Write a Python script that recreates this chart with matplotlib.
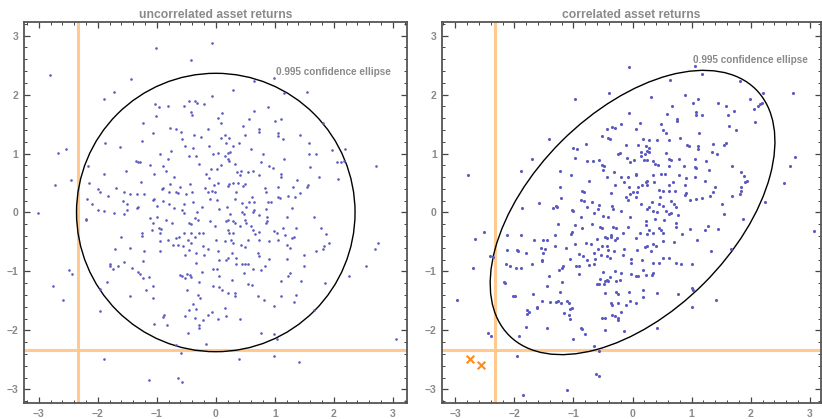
import numpy as np
import matplotlib
matplotlib.use("Agg")
import matplotlib.pyplot as plt
from matplotlib.patches import Ellipse
from matplotlib.ticker import MultipleLocator

plt.rcParams['font.family'] = ['Liberation Sans', 'DejaVu Sans']

# point clouds (x, y)
uncorr_pts = [
    (-0.07, 2.87), (-1.01, 2.79), (-0.42, 2.58), (-2.81, 2.33), (-1.44, 2.26), (0.99, 2.28),
    (0.64, 2.23), (-1.73, 2.05), (0.30, 2.08), (1.55, 2.04), (1.16, 2.03), (-0.07, 1.98),
    (-1.90, 1.92), (-0.46, 1.89), (-0.35, 1.89), (-1.03, 1.84), (-0.97, 1.79), (-0.81, 1.80),
    (-0.54, 1.80), (-0.31, 1.85), (-0.20, 1.84), (0.89, 1.79), (0.64, 1.72), (0.11, 1.69),
    (-0.42, 1.70), (-0.41, 1.65), (-1.01, 1.63), (0.03, 1.61), (0.57, 1.58), (1.00, 1.55),
    (1.11, 1.59), (0.08, 1.51), (-1.24, 1.51), (1.81, 1.52), (0.46, 1.46), (-0.78, 1.44),
    (-0.67, 1.42), (0.73, 1.41), (0.73, 1.36), (-0.14, 1.41), (-0.59, 1.36), (-1.07, 1.35),
    (1.05, 1.35), (-0.37, 1.31), (-0.25, 1.28), (0.16, 1.32), (0.50, 1.31), (1.42, 1.32),
    (1.05, 1.29), (0.08, 1.26), (0.23, 1.27), (1.14, 1.25), (-0.57, 1.24), (-1.25, 1.22),
    (-1.88, 1.18), (1.58, 1.17), (0.18, 1.17), (0.39, 1.18), (-1.62, 1.11), (-0.52, 1.13),
    (-0.11, 1.13), (-0.38, 1.10), (0.29, 1.12), (2.19, 1.08), (1.97, 1.06), (-2.53, 1.07),
    (0.59, 1.07), (0.24, 1.03), (0.21, 1.01), (-0.76, 1.05), (0.04, 1.01), (-0.04, 0.99),
    (-0.94, 1.00), (0.80, 1.00), (1.58, 0.99), (1.70, 1.00), (-2.68, 1.01), (-0.45, 0.95),
    (-0.33, 0.95), (0.15, 0.95), (-0.81, 0.91), (0.21, 0.90), (-1.35, 0.88), (-1.32, 0.85),
    (-1.29, 0.86), (0.22, 0.88), (0.77, 0.86), (2.05, 0.85), (2.12, 0.85), (2.18, 0.87),
    (2.71, 0.79), (-0.29, 0.82), (0.32, 0.82), (1.16, 0.90), (-1.12, 0.80), (-0.90, 0.78),
    (0.90, 0.78), (0.09, 0.80), (1.59, 0.77), (-2.16, 0.79), (0.97, 0.75), (-0.08, 0.74),
    (0.02, 0.73), (0.43, 0.71), (0.54, 0.69), (0.63, 0.71), (0.36, 0.69), (-0.85, 0.70),
    (-1.52, 0.70), (-0.16, 0.66), (-1.05, 0.65), (1.11, 0.65), (0.73, 0.64), (-1.90, 0.65),
    (-0.70, 0.61), (1.11, 0.61), (0.41, 0.64), (1.75, 0.61), (-0.12, 0.58), (2.07, 0.56),
    (-2.45, 0.55), (1.37, 0.55), (-1.27, 0.51), (0.29, 0.50), (-0.77, 0.48), (-0.43, 0.48),
    (0.03, 0.50), (0.22, 0.48), (0.38, 0.50), (0.50, 0.48), (0.46, 0.45), (-2.15, 0.50),
    (-2.72, 0.47), (-0.03, 0.47), (1.57, 0.46), (1.54, 0.43), (1.05, 0.44), (1.31, 0.43),
    (0.20, 0.45), (-0.90, 0.42), (-0.61, 0.43), (-0.18, 0.41), (-1.69, 0.41), (0.84, 0.41),
    (-2.00, 0.39), (-0.91, 0.39), (-0.06, 0.36), (-0.02, 0.35), (-0.14, 0.35), (-1.96, 0.34),
    (-1.56, 0.34), (-0.79, 0.35), (-0.68, 0.34), (-0.41, 0.34), (0.35, 0.35), (0.61, 0.27),
    (1.23, 0.28), (1.35, 0.27), (1.42, 0.33), (0.85, 0.34), (-1.34, 0.32), (-1.22, 0.31),
    (-1.46, 0.32), (-0.51, 0.31), (-0.64, 0.33), (-1.83, 0.28), (-1.04, 0.23), (-1.06, 0.21),
    (-0.09, 0.23), (0.02, 0.21), (0.32, 0.23), (1.05, 0.26), (1.08, 0.25), (-2.18, 0.23),
    (-2.09, 0.15), (-1.58, 0.19), (-0.89, 0.19), (0.57, 0.17), (0.44, 0.16), (0.89, 0.17),
    (0.93, 0.17), (0.65, 0.17), (-1.50, 0.14), (-0.80, 0.15), (-0.54, 0.15), (-0.38, 0.17),
    (-1.00, 0.11), (-1.32, 0.10), (1.29, 0.08), (0.19, 0.10), (0.52, 0.10), (-0.71, 0.08),
    (-1.34, 0.07), (-0.24, 0.10), (-2.00, 0.05), (-1.90, 0.02), (0.06, 0.06), (-0.57, 0.05),
    (0.64, 0.05), (0.45, 0.01), (0.85, 0.06), (-1.50, 0.05), (-1.55, -0.03), (-1.73, -0.01),
    (-3.01, -0.01), (-0.54, -0.01), (0.63, 0.01), (-0.32, 0.01), (0.24, -0.02), (0.47, -0.02),
    (0.73, -0.04), (0.86, -0.07), (1.20, -0.08), (1.67, -0.07), (-2.20, -0.11), (-2.20, -0.12),
    (-1.12, -0.10), (-0.99, -0.08), (-0.84, -0.12), (-0.10, -0.15), (-0.36, -0.10), (-0.30, -0.12),
    (-0.45, -0.17), (-0.42, -0.19), (-0.74, -0.18), (0.21, -0.12), (0.18, -0.15), (0.29, -0.15),
    (0.33, -0.17), (0.49, -0.12), (0.52, -0.17), (0.86, -0.14), (0.85, -0.18), (-1.07, -0.18),
    (-0.97, -0.26), (-0.92, -0.28), (-1.08, -0.29), (-0.01, -0.23), (0.41, -0.23), (0.60, -0.23),
    (1.79, -0.26), (1.36, -0.27), (1.14, -0.26), (-1.25, -0.34), (-1.25, -0.40), (-0.94, -0.35),
    (-0.54, -0.35), (-0.42, -0.34), (-0.29, -0.35), (-0.21, -0.35), (0.21, -0.29), (0.23, -0.35),
    (0.29, -0.34), (0.63, -0.29), (0.66, -0.36), (0.74, -0.33), (0.98, -0.32), (1.04, -0.35),
    (1.17, -0.38), (1.86, -0.36), (1.92, -0.52), (2.75, -0.51), (-1.60, -0.42), (-0.62, -0.42),
    (-0.68, -0.44), (-0.36, -0.42), (-0.95, -0.49), (-0.81, -0.47), (-0.47, -0.47), (0.01, -0.47),
    (0.15, -0.49), (0.26, -0.46), (0.29, -0.52), (0.54, -0.47), (0.74, -0.47), (0.91, -0.48),
    (1.06, -0.47), (1.29, -0.44), (1.33, -0.42), (1.84, -0.57), (1.81, -0.62), (1.70, -0.66),
    (-0.73, -0.55), (-0.64, -0.55), (-0.42, -0.52), (-0.21, -0.56), (-0.56, -0.57), (0.42, -0.55),
    (0.49, -0.59), (1.21, -0.55), (1.26, -0.60), (-1.46, -0.60), (-1.71, -0.62), (-1.22, -0.66),
    (-0.94, -0.66), (-0.45, -0.64), (-0.33, -0.69), (-0.14, -0.62), (0.03, -0.66), (0.28, -0.68),
    (0.71, -0.68), (0.73, -0.73), (1.50, -0.72), (2.69, -0.62), (-0.52, -0.72), (-0.20, -0.72),
    (0.06, -0.80), (0.18, -0.80), (0.21, -0.78), (0.34, -0.77), (0.90, -0.79), (1.21, -0.79),
    (-1.24, -0.83), (-1.56, -0.84), (-1.80, -0.87), (-0.33, -0.86), (0.34, -0.88), (0.44, -0.87),
    (0.50, -0.87), (0.54, -0.87), (2.55, -0.90), (-1.80, -0.91), (-1.75, -0.95), (-1.65, -0.91),
    (-1.42, -0.94), (-0.04, -0.95), (0.02, -0.95), (0.63, -0.96), (0.77, -0.97), (0.84, -0.91),
    (1.50, -0.91), (-2.48, -0.97), (-2.44, -1.04), (-0.23, -1.01), (0.47, -1.03), (1.25, -1.03),
    (-1.32, -1.01), (-1.29, -1.04), (-0.61, -1.06), (-0.58, -1.08), (-0.49, -1.04), (-0.44, -1.06),
    (-0.42, -1.09), (-0.52, -1.11), (-1.14, -1.09), (-1.24, -1.11), (0.05, -1.08), (0.27, -1.14),
    (1.23, -1.07), (2.25, -1.08), (-0.29, -1.18), (-0.05, -1.25), (0.05, -1.26), (0.11, -1.31),
    (0.54, -1.21), (0.62, -1.23), (1.11, -1.17), (1.45, -1.17), (1.85, -1.19), (-1.84, -1.18),
    (-1.07, -1.24), (-2.76, -1.24), (-1.18, -1.32), (-0.49, -1.31), (-1.97, -1.30), (-1.46, -1.42),
    (-0.30, -1.40), (-0.27, -1.45), (0.21, -1.37), (0.32, -1.37), (0.32, -1.41), (0.71, -1.41),
    (1.10, -1.42), (1.36, -1.40), (-1.07, -1.45), (-2.59, -1.48), (0.81, -1.49), (1.33, -1.52),
    (-0.38, -1.55), (-0.33, -1.64), (0.15, -1.62), (0.98, -1.58), (1.67, -1.66), (-1.97, -1.67),
    (-0.45, -1.65), (-0.07, -1.68), (-0.14, -1.74), (-0.88, -1.74), (-0.89, -1.78), (-0.53, -1.76),
    (-0.35, -1.79), (0.17, -1.75), (0.41, -1.81), (-0.21, -1.83), (0.03, -1.81), (-1.04, -1.89),
    (-0.82, -1.90), (-0.28, -1.90), (-0.28, -1.95), (-0.47, -2.04), (0.76, -2.04), (0.99, -2.06),
    (1.03, -2.14), (3.06, -2.14), (-0.67, -2.24), (-0.16, -2.23), (-0.59, -2.38), (-1.89, -2.49),
    (0.40, -2.49), (0.99, -2.43), (1.41, -2.53), (-1.14, -2.84), (-0.64, -2.80), (-0.57, -2.88),
]

corr_pts = [
    (-0.06, 2.46), (1.06, 2.48), (1.17, 2.34), (0.64, 2.24), (1.82, 2.23), (-0.40, 2.03),
    (2.72, 2.03), (2.20, 2.03), (-0.98, 1.93), (0.31, 1.95), (0.89, 1.99), (1.11, 1.93),
    (1.98, 1.92), (1.44, 1.85), (1.59, 1.80), (2.05, 1.76), (2.12, 1.80), (2.16, 1.84),
    (2.19, 1.85), (0.66, 1.81), (1.03, 1.85), (1.72, 1.72), (-0.06, 1.68), (1.07, 1.70),
    (1.08, 1.66), (1.17, 1.66), (1.61, 1.65), (0.59, 1.67), (0.75, 1.59), (0.75, 1.55),
    (2.07, 1.53), (-0.19, 1.50), (0.12, 1.52), (0.48, 1.50), (1.63, 1.46), (-0.43, 1.42),
    (-0.35, 1.45), (-0.30, 1.44), (0.06, 1.42), (0.52, 1.40), (0.57, 1.35), (1.75, 1.40),
    (1.13, 1.34), (-0.52, 1.30), (-0.41, 1.27), (-0.39, 1.25), (-1.42, 1.24), (0.17, 1.24),
    (0.28, 1.23), (0.41, 1.23), (0.62, 1.23), (0.80, 1.27), (0.92, 1.14), (0.96, 1.13),
    (1.10, 1.12), (1.37, 1.16), (1.55, 1.14), (1.58, 1.17), (1.10, 1.07), (-0.11, 1.15),
    (0.10, 1.14), (0.23, 1.12), (0.27, 1.09), (-0.79, 1.16), (-1.01, 1.09), (-0.94, 1.07),
    (0.24, 1.05), (0.15, 1.03), (-0.24, 1.00), (-0.22, 1.01), (0.21, 0.99), (0.28, 1.03),
    (0.57, 1.01), (1.34, 1.03), (1.43, 0.99), (2.75, 0.94), (-1.71, 0.91), (-0.98, 0.92),
    (-0.10, 0.92), (0.15, 0.95), (0.62, 0.91), (0.65, 0.89), (0.79, 0.91), (1.05, 0.90),
    (-0.56, 0.89), (-0.77, 0.87), (-0.67, 0.87), (0.03, 0.89), (0.20, 0.89), (0.25, 0.89),
    (0.34, 0.88), (-0.04, 0.85), (1.25, 0.87), (-0.52, 0.81), (-0.49, 0.79), (0.38, 0.82),
    (0.43, 0.80), (0.61, 0.78), (0.87, 0.79), (1.68, 0.78), (2.66, 0.78), (-1.88, 0.71),
    (-0.50, 0.72), (-0.31, 0.68), (0.06, 0.66), (0.05, 0.64), (0.34, 0.64), (0.48, 0.66),
    (0.55, 0.66), (0.78, 0.63), (1.06, 0.77), (1.08, 0.75), (1.29, 0.72), (1.83, 0.68),
    (1.89, 0.62), (-1.22, 0.70), (-1.05, 0.64), (-0.44, 0.60), (-0.20, 0.60), (-0.07, 0.61),
    (0.24, 0.54), (0.37, 0.51), (0.90, 0.59), (1.06, 0.61), (1.22, 0.54), (1.93, 0.54),
    (1.91, 0.51), (2.56, 0.50), (-0.74, 0.53), (-0.14, 0.51), (0.23, 0.51), (0.69, 0.52),
    (0.61, 0.46), (0.88, 0.46), (1.39, 0.44), (-1.23, 0.43), (-0.30, 0.46), (-0.06, 0.44),
    (0.10, 0.44), (0.16, 0.47), (0.25, 0.46), (1.84, 0.43), (0.44, 0.38), (0.51, 0.37),
    (0.62, 0.36), (0.72, 0.36), (0.90, 0.33), (0.89, 0.29), (1.83, 0.36), (1.82, 0.32),
    (1.36, 0.34), (0.00, 0.35), (0.08, 0.35), (-0.04, 0.32), (-0.37, 0.33), (-0.85, 0.37),
    (-0.82, 0.34), (0.05, 0.27), (-0.11, 0.26), (0.47, 0.27), (1.17, 0.25), (1.31, 0.28),
    (1.69, 0.28), (2.25, 0.17), (-1.21, 0.25), (-0.88, 0.21), (-0.83, 0.19), (-0.69, 0.18),
    (-1.58, 0.16), (0.33, 0.18), (0.65, 0.19), (-0.07, 0.21), (1.08, 0.23), (0.97, 0.21),
    (1.52, 0.14), (-0.57, 0.12), (-0.35, 0.11), (-1.28, 0.10), (-1.30, 0.11), (-1.34, 0.07),
    (-1.87, 0.08), (-0.77, 0.10), (0.14, 0.14), (0.28, 0.09), (0.45, 0.15), (0.51, 0.11),
    (0.71, 0.15), (0.74, 0.09), (-1.03, 0.05), (-1.01, 0.03), (-0.58, 0.06), (-0.33, 0.06),
    (-0.20, 0.03), (0.24, 0.06), (0.34, 0.02), (0.42, 0.01), (0.56, 0.02), (0.61, -0.02),
    (0.65, -0.01), (0.77, -0.04), (1.54, -0.02), (1.87, -0.11), (-0.87, -0.08), (-0.66, -0.01),
    (-0.50, -0.06), (-0.41, -0.08), (-0.05, -0.07), (0.23, -0.14), (0.38, -0.11), (0.53, -0.12),
    (0.73, -0.18), (0.73, -0.24), (-1.26, -0.19), (-0.97, -0.21), (-0.86, -0.26), (-0.69, -0.19),
    (-0.55, -0.24), (-0.51, -0.26), (-0.33, -0.25), (-0.28, -0.26), (-0.07, -0.25), (0.23, -0.21),
    (0.28, -0.29), (0.44, -0.27), (0.48, -0.29), (0.97, -0.28), (1.23, -0.29), (1.28, -0.23),
    (1.45, -0.28), (-2.52, -0.33), (-1.03, -0.33), (-1.05, -0.37), (-0.37, -0.38), (-0.36, -0.41),
    (-0.16, -0.35), (0.13, -0.35), (0.24, -0.37), (0.35, -0.35), (0.52, -0.35), (0.84, -0.37),
    (1.09, -0.46), (-2.66, -0.45), (-2.13, -0.38), (-1.88, -0.38), (-1.31, -0.39), (-0.46, -0.41),
    (-0.44, -0.43), (-0.27, -0.43), (-0.30, -0.47), (-0.60, -0.45), (-1.67, -0.47), (-1.51, -0.46),
    (-1.44, -0.46), (0.05, -0.43), (0.52, -0.48), (0.39, -0.56), (-0.97, -0.53), (-0.79, -0.52),
    (-0.70, -0.53), (-0.51, -0.56), (-0.43, -0.57), (0.21, -0.59), (0.24, -0.56), (0.35, -0.53),
    (0.70, -0.50), (-2.13, -0.63), (-1.96, -0.63), (-1.94, -0.66), (-1.55, -0.60), (-1.48, -0.62),
    (-1.32, -0.57), (-1.13, -0.60), (-0.58, -0.62), (-0.41, -0.64), (-0.31, -0.66), (-0.14, -0.62),
    (0.08, -0.64), (0.31, -0.65), (1.33, -0.66), (1.67, -0.62), (-1.80, -0.69), (-1.52, -0.68),
    (-0.90, -0.70), (-0.84, -0.73), (-0.65, -0.69), (-0.53, -0.72), (-0.44, -0.74), (-0.39, -0.77),
    (-0.17, -0.72), (0.52, -0.78), (0.62, -0.77), (-1.06, -0.79), (-2.42, -0.73), (-2.37, -0.75),
    (-0.77, -0.80), (-0.63, -0.79), (-0.02, -0.79), (0.16, -0.81), (-1.54, -0.81), (-1.54, -0.83),
    (-2.14, -0.87), (-1.70, -0.88), (-1.18, -0.90), (-0.91, -0.90), (-0.73, -0.89), (-0.65, -0.87),
    (-0.03, -0.86), (0.34, -0.86), (0.45, -0.85), (0.73, -0.86), (0.82, -0.88), (1.00, -0.87),
    (-2.07, -0.91), (-1.98, -0.94), (-1.89, -0.94), (-1.19, -0.94), (-0.95, -0.91), (-1.24, -0.98),
    (-0.29, -1.00), (-0.20, -1.03), (-0.50, -1.01), (0.17, -0.97), (-0.02, -1.04), (0.35, -1.03),
    (0.33, -1.06), (0.23, -1.06), (0.09, -1.07), (0.06, -1.08), (-0.91, -1.05), (-1.42, -1.07),
    (-0.39, -1.09), (-0.55, -1.13), (-0.43, -1.14), (-0.21, -1.14), (-0.47, -1.17), (-0.41, -1.17),
    (-0.28, -1.17), (-1.20, -1.18), (-2.17, -1.18), (-2.16, -1.20), (-0.60, -1.22), (-0.57, -1.21),
    (-0.48, -1.21), (0.17, -1.31), (-1.45, -1.25), (1.00, -1.28), (1.02, -1.32), (-1.22, -1.34),
    (-0.28, -1.35), (-0.24, -1.39), (-0.06, -1.34), (0.42, -1.36), (-0.47, -1.36), (-1.69, -1.39),
    (0.77, -1.38), (0.17, -1.43), (-1.99, -1.41), (-2.03, -1.42), (1.42, -1.48), (-2.97, -1.49),
    (-1.54, -1.50), (-1.40, -1.52), (-1.30, -1.52), (-1.27, -1.50), (-1.21, -1.54), (-1.11, -1.50),
    (-1.08, -1.54), (-0.37, -1.53), (-0.34, -1.57), (-0.25, -1.53), (-0.11, -1.57), (-0.05, -1.50),
    (0.06, -1.54), (-1.61, -1.60), (-1.61, -1.62), (-1.06, -1.63), (-1.02, -1.62), (1.01, -1.60),
    (-1.78, -1.65), (-0.19, -1.69), (-1.76, -1.68), (-1.78, -1.72), (-1.16, -1.71), (-1.08, -1.73),
    (-0.34, -1.74), (-0.29, -1.76), (-0.52, -1.79), (-0.47, -1.79), (-0.25, -1.79), (-0.25, -1.83),
    (-1.06, -1.81), (-1.81, -1.94), (-1.44, -1.95), (-0.87, -1.95), (-0.86, -1.98), (0.41, -1.95),
    (-0.46, -1.99), (-0.15, -2.01), (-0.81, -2.06), (-2.44, -2.05), (-2.40, -2.10), (-1.93, -2.10),
    (-1.01, -2.15), (-0.65, -2.26), (-0.57, -2.34), (-1.95, -2.43), (-0.62, -2.74), (-0.56, -2.77),
    (-1.11, -3.01), (-1.86, -3.09), (3.07, -0.31), (-2.78, 0.64), (-2.70, -0.94),
]

# joint tail events (both returns below the threshold)
tail_x = [-2.75, -2.56]
tail_y = [-2.49, -2.59]

threshold = -2.33
radius_uncorr = 2.36
radius_corr = 2.41
rho = 0.5

titles = ["uncorrelated asset returns", "correlated asset returns"]
label_pos = [(1.02, 2.39), (1.03, 2.59)]
tick_vals = [-3, -2, -1, 0, 1, 2, 3]
tick_text = ["\u22123", "\u22122", "\u22121", "0", "1", "2", "3"]

GRAY = "#8a8a8a"
DOT = "#5a5ac0"

fig = plt.figure(figsize=(8.22, 4.19), dpi=100)
ax1 = fig.add_axes([0.0292, 0.0382, 0.4659, 0.9093])
ax2 = fig.add_axes([0.5381, 0.0382, 0.4607, 0.9093])


def style(ax, xlim):
    ax.set_xlim(*xlim)
    ax.set_ylim(-3.23, 3.23)
    ax.set_xticks(tick_vals)
    ax.set_xticklabels(tick_text, fontweight="bold")
    ax.set_yticks(tick_vals)
    ax.set_yticklabels(tick_text, fontweight="bold")
    ax.xaxis.set_minor_locator(MultipleLocator(0.2))
    ax.yaxis.set_minor_locator(MultipleLocator(0.2))
    ax.tick_params(which="both", direction="in", top=True, right=True,
                   color="#444444", labelcolor=GRAY, labelsize=7.5)
    ax.tick_params(which="major", length=4, width=0.9, pad=4)
    ax.tick_params(which="minor", length=2, width=0.7)
    for sp in ax.spines.values():
        sp.set_color("#555555")
        sp.set_linewidth(1.3)


u = np.array(uncorr_pts)
c = np.array(corr_pts)

# left panel
ax1.axvline(threshold, color="#ffc98f", lw=2.2, zorder=1)
ax1.axhline(threshold, color="#ffc98f", lw=2.2, zorder=1)
ax1.scatter(u[:, 0], u[:, 1], s=3.5, color=DOT, linewidths=0, zorder=3)
ax1.add_patch(Ellipse((0, 0), 2 * radius_uncorr, 2 * radius_uncorr,
                      fill=False, edgecolor="black", lw=1, zorder=2))
style(ax1, (-3.25, 3.24))

# right panel
ax2.axvline(threshold, color="#ffc98f", lw=2.2, zorder=1)
ax2.axhline(threshold, color="#ffc98f", lw=2.2, zorder=1)
ax2.scatter(c[:, 0], c[:, 1], s=5, color=DOT, linewidths=0, zorder=3)
ax2.add_patch(Ellipse((0, 0), 2 * radius_corr * np.sqrt(1 + rho),
                      2 * radius_corr * np.sqrt(1 - rho), angle=45,
                      fill=False, edgecolor="black", lw=1, zorder=2))
ax2.scatter(tail_x, tail_y, marker="x", s=30, color="#ff8c1a", linewidths=1.5, zorder=4)
style(ax2, (-3.22, 3.19))

for ax, t, (lx, ly) in zip([ax1, ax2], titles, label_pos):
    ax.set_title(t, fontsize=8.7, color=GRAY, fontweight="bold", pad=3)
    ax.text(lx, ly, "0.995 confidence ellipse", fontsize=7.2, color=GRAY,
            fontweight="bold", va="center", ha="left", zorder=5)

fig.savefig("out.png", dpi=100)
